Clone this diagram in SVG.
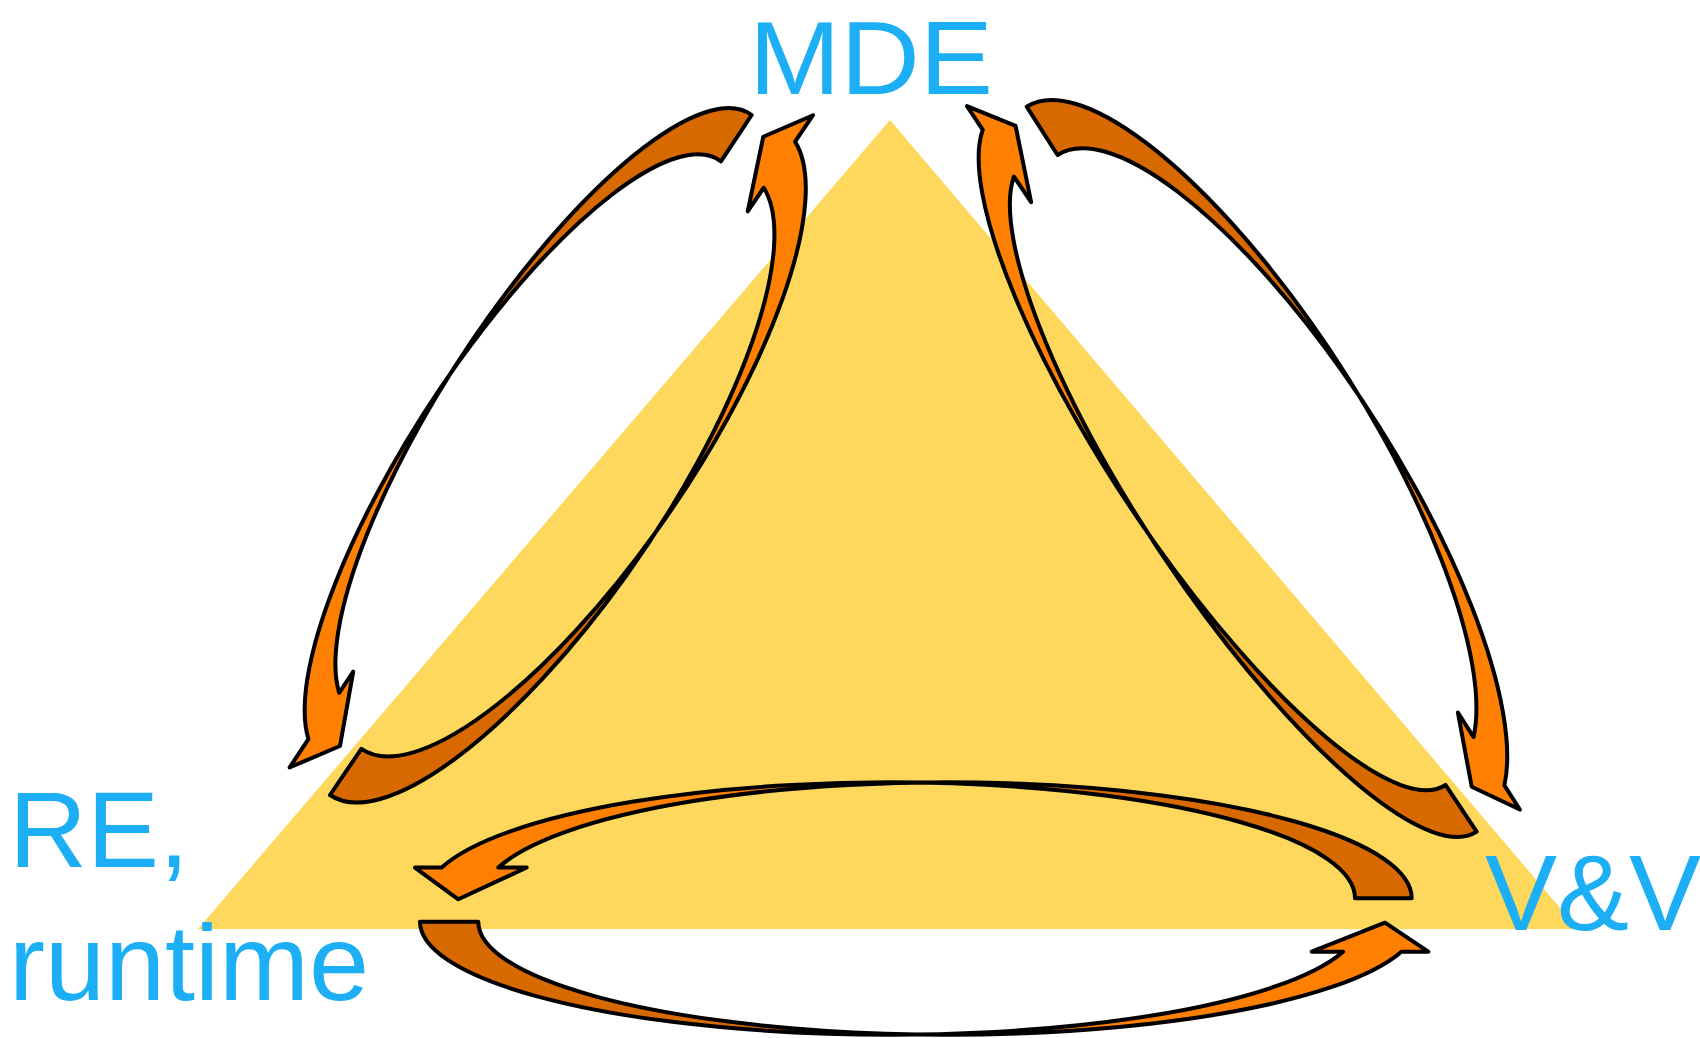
<svg xmlns="http://www.w3.org/2000/svg" width="1700" height="1038" viewBox="0 0 1700 1038">
<style>
.lbl{font-family:"Liberation Sans",Arial,sans-serif;font-size:108px;fill:#1DAFF5}
.fb{fill:#FF8000;stroke:none}
.fd{fill:#D86900;stroke:none}
.ln{fill:none;stroke:#000;stroke-width:4;stroke-linejoin:round}
</style>
<defs>
<path id="pa1" vector-effect="non-scaling-stroke" d="M0,-1 A1,1 0 0 0 -0.2225,0.9749 L-0.2225,0.9044 L0.0555,1.092 L-0.2225,1.224 L-0.2225,1.1293 A1,1 0 0 1 0,-0.8456 Z"/>
<path id="pa2" vector-effect="non-scaling-stroke" d="M0,-1 A1,1 0 0 0 -0.1426,0.9898 L-0.1426,0.9138 L0.0955,1.1017 L-0.1426,1.2237 L-0.1426,1.1386 A1,1 0 0 1 0,-0.8512 Z"/>
<path id="pb1" vector-effect="non-scaling-stroke" d="M0,-1 A1,1 0 0 0 -0.3008,0.9537 L-0.3008,0.880 L-0.0744,1.0572 L-0.3008,1.1714 L-0.3008,1.0988 A1,1 0 0 1 0,-0.8549 Z"/>
<path id="pb2" vector-effect="non-scaling-stroke" d="M0,-1 A1,1 0 0 0 -0.194,0.981 L-0.194,0.9047 L0.0787,1.0827 L-0.194,1.190 L-0.194,1.1198 A1,1 0 0 1 0,-0.8612 Z"/>
<path id="pc1" vector-effect="non-scaling-stroke" d="M0,-1 A1,1 0 0 0 -0.265,0.9642 L-0.265,0.9032 L0.0086,1.0503 L-0.265,1.1435 L-0.265,1.0861 A1,1 0 0 1 0,-0.8781 Z"/>
<path id="pc2" vector-effect="non-scaling-stroke" d="M0,-1 A1,1 0 0 0 -0.2655,0.9641 L-0.2655,0.8972 L-0.00885,1.0532 L-0.2655,1.1453 L-0.2655,1.0881 A1,1 0 0 1 0,-0.876 Z"/>
<clipPath id="ka1"><rect x="-3" y="-3" width="6" height="3.0772"/></clipPath>
<clipPath id="ka2"><rect x="-3" y="-3" width="6" height="3.0744"/></clipPath>
<clipPath id="kb1"><rect x="-3" y="-3" width="6" height="3.0726"/></clipPath>
<clipPath id="kb2"><rect x="-3" y="-3" width="6" height="3.0694"/></clipPath>
<clipPath id="kc1"><rect x="-3" y="-3" width="6" height="3.061"/></clipPath>
<clipPath id="kc2"><rect x="-3" y="-3" width="6" height="3.062"/></clipPath>
</defs>
<rect width="1700" height="1038" fill="#fff"/>
<g id="triangle"><polygon points="890,120 1578,929 198,929" fill="#FED85C"/></g>
<g id="node-mde"><text class="lbl" x="749" y="94" style="font-size:104px" textLength="244" lengthAdjust="spacingAndGlyphs">MDE</text></g>
<g id="node-re"><text class="lbl" x="9" y="867">RE,</text><text class="lbl" x="9" y="1000">runtime</text></g>
<g id="node-vv"><text class="lbl" x="1485" y="930">V&amp;V</text></g>
<g id="connectors">
<g id="arrow-mde-re" transform="matrix(86.8 65.1 -199.1 299.9 552.6 414.9)"><use href="#pa1" class="fb"/><use href="#pa1" class="fd" clip-path="url(#ka1)"/><use href="#pa1" class="ln"/></g>
<g id="arrow-re-mde" transform="matrix(-100.9 -68.6 210.75 -310.1 540.75 484.9)"><use href="#pa2" class="fb"/><use href="#pa2" class="fd" clip-path="url(#ka2)"/><use href="#pa2" class="ln"/></g>
<g id="arrow-mde-vv" transform="matrix(-105.4 67.25 212.5 333 1239.2 439.7)"><use href="#pb1" class="fb"/><use href="#pb1" class="fd" clip-path="url(#kb1)"/><use href="#pb1" class="ln"/></g>
<g id="arrow-vv-mde" transform="matrix(89.7 -59.9 -224.8 -336.6 1251.9 495.1)"><use href="#pb2" class="fb"/><use href="#pb2" class="fd" clip-path="url(#kb2)"/><use href="#pb2" class="ln"/></g>
<g id="arrow-vv-re" transform="matrix(0 116 -465 0 946.7 898.3)"><use href="#pc1" class="fb"/><use href="#pc1" class="fd" clip-path="url(#kc1)"/><use href="#pc1" class="ln"/></g>
<g id="arrow-re-vv" transform="matrix(0 -113 470 0 890 921.7)"><use href="#pc2" class="fb"/><use href="#pc2" class="fd" clip-path="url(#kc2)"/><use href="#pc2" class="ln"/></g>
</g>
</svg>
